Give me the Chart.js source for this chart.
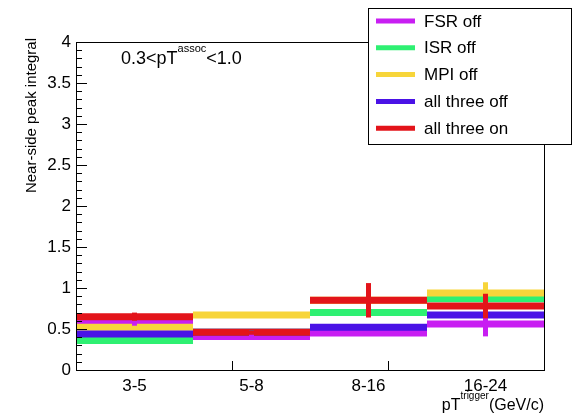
<!DOCTYPE html>
<html>
<head>
<meta charset="utf-8">
<script src="https://cdn.jsdelivr.net/npm/chart.js@4"></script>
<style>
  html, body { margin: 0; padding: 0; background: #fff; }
</style>
</head>
<body>
<canvas id="myChart" width="583" height="418"></canvas>
<script>
// pT trigger bins
const binLabels = ['3-5', '5-8', '8-16', '16-24'];

// near-side peak integral per bin, with errors
const fsrOff = [0.57, 0.41, 0.45, 0.56];
const fsrErr = [0.04, 0.02, 0.02, 0.15];
const isrOff = [0.36, 0.46, 0.70, 0.87];
const isrErr = [0.02, 0.02, 0.02, 0.02];
const mpiOff = [0.52, 0.67, 0.85, 0.94];
const mpiErr = [0.02, 0.02, 0.02, 0.13];
const allOff = [0.44, 0.46, 0.52, 0.67];
const allOffErr = [0.02, 0.02, 0.02, 0.02];
const allOn = [0.65, 0.46, 0.85, 0.78];
const allOnErr = [0.05, 0.02, 0.21, 0.15];

const yTicks = [0, 0.5, 1, 1.5, 2, 2.5, 3, 3.5, 4];

const series = [
    { label: 'FSR off', values: fsrOff, errors: fsrErr, color: '#c81ef2' },
    { label: 'ISR off', values: isrOff, errors: isrErr, color: '#2ef072' },
    { label: 'MPI off', values: mpiOff, errors: mpiErr, color: '#f7d53a' },
    { label: 'all three off', values: allOff, errors: allOffErr, color: '#4a12e6' },
    { label: 'all three on', values: allOn, errors: allOnErr, color: '#e3141a' }
];

const FONT = '"Liberation Sans", Arial, sans-serif';

// each bin is its own flat segment, nulls break the line between bins
function binSegments(values) {
    const pts = [];
    values.forEach((v, i) => {
        pts.push({ x: i, y: v });
        pts.push({ x: i + 1, y: v });
        pts.push({ x: i + 1, y: null });
    });
    return pts;
}

// later series painted over earlier ones
const datasets = series.map((s, i) => ({
    label: s.label,
    data: binSegments(s.values),
    order: series.length - i,
    borderColor: s.color,
    backgroundColor: s.color,
    borderWidth: 7,
    borderCapStyle: 'butt',
    pointRadius: 0,
    spanGaps: false,
    tension: 0
}));

// vertical error bars at bin centres, on top of all bins
const errorBars = {
    id: 'errorBars',
    afterDatasetsDraw(chart) {
        const { ctx, scales: { x, y } } = chart;
        ctx.save();
        ctx.lineWidth = 5;
        series.forEach(s => {
            ctx.strokeStyle = s.color;
            s.values.forEach((v, i) => {
                const e = s.errors[i];
                const px = x.getPixelForValue(i + 0.5);
                ctx.beginPath();
                ctx.moveTo(px, y.getPixelForValue(v - e));
                ctx.lineTo(px, y.getPixelForValue(v + e));
                ctx.stroke();
            });
        });
        ctx.restore();
    }
};

// frame with inward ticks, titles, label and legend box
const decorations = {
    id: 'decorations',
    afterDraw(chart) {
        const { ctx, chartArea: a, scales: { x, y } } = chart;
        ctx.save();
        ctx.strokeStyle = '#000';
        ctx.lineWidth = 1;
        ctx.strokeRect(Math.round(a.left) + 0.5, Math.round(a.top) + 0.5,
            Math.round(a.right - a.left), Math.round(a.bottom - a.top));

        // y ticks, major every 0.5, minor every 0.1
        for (let k = 0; k <= 40; k++) {
            const py = Math.round(y.getPixelForValue(k / 10)) + 0.5;
            const len = k % 5 === 0 ? 11 : 6;
            ctx.beginPath();
            ctx.moveTo(a.left, py);
            ctx.lineTo(a.left + len, py);
            ctx.stroke();
        }
        // x ticks
        [4 / 3, 8 / 3].forEach(v => {
            const px = Math.round(x.getPixelForValue(v)) + 0.5;
            ctx.beginPath();
            ctx.moveTo(px, a.bottom);
            ctx.lineTo(px, a.bottom - 9);
            ctx.stroke();
        });

        ctx.fillStyle = '#000';
        ctx.textBaseline = 'alphabetic';

        // y axis title
        ctx.save();
        ctx.translate(36, 38);
        ctx.rotate(-Math.PI / 2);
        ctx.textAlign = 'right';
        ctx.font = '15px ' + FONT;
        ctx.fillText('Near-side peak integral', 0, 0);
        ctx.restore();

        // x axis title, right aligned at the axis end
        ctx.textAlign = 'left';
        const big = '16px ' + FONT, small = '10px ' + FONT;
        ctx.font = big;
        const wPT = ctx.measureText('pT').width;
        const wUnit = ctx.measureText('(GeV/c)').width;
        ctx.font = small;
        const wSup = ctx.measureText('trigger').width;
        let tx = a.right - (wPT + wSup + wUnit);
        ctx.font = big;
        ctx.fillText('pT', tx, 410);
        ctx.font = small;
        ctx.fillText('trigger', tx + wPT, 399);
        ctx.font = big;
        ctx.fillText('(GeV/c)', tx + wPT + wSup, 410);

        // pT assoc range
        ctx.font = '18px ' + FONT;
        let lx = 121;
        ctx.fillText('0.3<pT', lx, 64);
        lx += ctx.measureText('0.3<pT').width;
        ctx.font = '11px ' + FONT;
        ctx.fillText('assoc', lx, 52);
        lx += ctx.measureText('assoc').width;
        ctx.font = '18px ' + FONT;
        ctx.fillText('<1.0', lx, 64);

        // legend
        const bx = 368.5, by = 8.5, bw = 203, bh = 136;
        ctx.fillStyle = '#fff';
        ctx.fillRect(bx, by, bw, bh);
        ctx.strokeRect(bx, by, bw, bh);
        ctx.font = '17px ' + FONT;
        ctx.textBaseline = 'middle';
        series.forEach((s, i) => {
            const ly = 21 + i * 26.8;
            ctx.strokeStyle = s.color;
            ctx.lineWidth = 5;
            ctx.beginPath();
            ctx.moveTo(376, ly);
            ctx.lineTo(415, ly);
            ctx.stroke();
            ctx.fillStyle = '#000';
            ctx.fillText(s.label, 424, ly + 1);
        });
        ctx.restore();
    }
};

const ctx = document.getElementById('myChart').getContext('2d');
new Chart(ctx, {
    type: 'line',
    data: { datasets },
    options: {
        responsive: false,
        devicePixelRatio: 1,
        animation: false,
        layout: { padding: { left: 0, top: 42, right: 39, bottom: 0 } },
        plugins: {
            legend: { display: false },
            tooltip: { enabled: false }
        },
        scales: {
            x: {
                type: 'linear',
                min: 0,
                max: 4,
                afterBuildTicks: scale => {
                    scale.ticks = binLabels.map((_, i) => ({ value: i + 0.5 }));
                },
                afterFit: scale => { scale.height = 48; },
                ticks: {
                    autoSkip: false,
                    maxRotation: 0,
                    padding: 6,
                    color: '#000',
                    font: { family: FONT, size: 17 },
                    callback: (v, i) => binLabels[i]
                },
                grid: { display: false, drawTicks: false },
                border: { display: false }
            },
            y: {
                type: 'linear',
                min: 0,
                max: 4,
                afterBuildTicks: scale => {
                    scale.ticks = yTicks.map(v => ({ value: v }));
                },
                afterFit: scale => { scale.width = 76; },
                ticks: {
                    padding: 5,
                    color: '#000',
                    font: { family: FONT, size: 17 },
                    callback: v => String(v)
                },
                grid: { display: false, drawTicks: false },
                border: { display: false }
            }
        }
    },
    plugins: [errorBars, decorations]
});
</script>
</body>
</html>
